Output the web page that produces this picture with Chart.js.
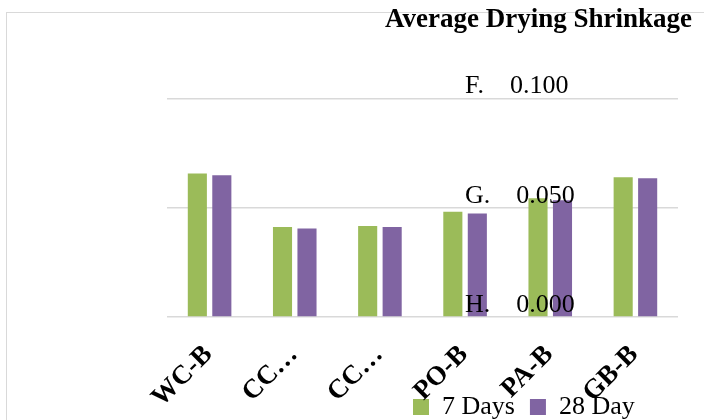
<!DOCTYPE html>
<html><head><meta charset="utf-8">
<script src="https://cdn.jsdelivr.net/npm/chart.js@4.4.1/dist/chart.umd.min.js"></script>
<style>
html,body{margin:0;padding:0;background:#fff;overflow:hidden;}
#wrap{position:relative;width:704px;height:420px;overflow:hidden;}
#frame{position:absolute;left:6px;top:12px;width:760px;height:460px;border:1.5px solid #d9d9d9;box-sizing:border-box;}
#c{position:absolute;left:0;top:0;}
</style></head><body>
<div id="wrap"><div id="frame"></div><canvas id="c" width="704" height="420"></canvas></div>
<script>
// ---- data ----
const categories = ['WC-B', 'CC…', 'CC…', 'PO-B', 'PA-B', 'GB-B'];
const days7 = [0.0657, 0.0412, 0.0416, 0.0481, 0.0543, 0.0639];
const days28 = [0.0648, 0.0405, 0.0412, 0.0473, 0.0534, 0.0635];
const seriesNames = ['7 Days', '28 Day'];
const yTickValues = [0, 0.05, 0.1];
const yTickLabels = ['H.    0.000', 'G.    0.050', 'F.    0.100'];
const chartTitle = 'Average Drying Shrinkage';

// ---- layout constants ----
const legendLeft = 398;
const legendTop = 379;

Chart.defaults.font.family = '"Liberation Serif", "Times New Roman", serif';
Chart.defaults.color = '#000';

const legendShift = {
  id: 'legendShift',
  afterLayout(chart) {
    const lg = chart.legend;
    if (!lg) return;
    const w = lg.right - lg.left;
    const h = lg.bottom - lg.top;
    lg.left = legendLeft;
    lg.right = legendLeft + w;
    lg.top = legendTop;
    lg.bottom = legendTop + h;
  }
};

function tickLabel(value) {
  const i = yTickValues.findIndex(v => Math.abs(v - value) < 1e-9);
  return i >= 0 ? yTickLabels[i] : '';
}

new Chart(document.getElementById('c'), {
  type: 'bar',
  data: {
    labels: categories,
    datasets: [
      { label: seriesNames[0], data: days7, backgroundColor: '#9BBB59', borderWidth: 0,
        barPercentage: 0.78, categoryPercentage: 0.575 },
      { label: seriesNames[1], data: days28, backgroundColor: '#8064A2', borderWidth: 0,
        barPercentage: 0.78, categoryPercentage: 0.575 }
    ]
  },
  options: {
    responsive: false,
    animation: false,
    devicePixelRatio: 1,
    layout: { padding: { left: 167, right: 12, top: 0, bottom: -51 } },
    plugins: {
      title: {
        display: true, text: chartTitle, align: 'end', color: '#000',
        font: { size: 27, weight: 'bold' }, padding: { top: 4, bottom: 62 }
      },
      legend: {
        display: true, position: 'bottom', fullSize: false, align: 'start',
        labels: { boxWidth: 16, boxHeight: 16, padding: 15, color: '#000', font: { size: 26 } }
      },
      tooltip: { enabled: false }
    },
    scales: {
      x: {
        grid: { display: false, drawTicks: false },
        border: { display: false },
        ticks: {
          autoSkip: false, maxRotation: 45, minRotation: 45, padding: 22, labelOffset: -1,
          color: '#000', font: { size: 27, weight: 'bold' }
        },
        afterFit(s) { s.height = 103; s.paddingLeft = 0; s.paddingRight = 0; }
      },
      y: {
        min: 0, max: 0.1,
        grid: { color: '#d9d9d9', lineWidth: 1.5, drawTicks: false },
        border: { display: false },
        ticks: { stepSize: 0.05, display: false },
        afterFit(s) { s.width = 0; s.paddingTop = 0; s.paddingBottom = 0; }
      },
      yLab: {
        position: 'left',
        min: 0, max: 0.1,
        grid: { display: false, drawTicks: false },
        border: { display: false },
        ticks: {
          z: 1,
          stepSize: 0.05, mirror: true, padding: 298, labelOffset: -12,
          color: '#000', font: { size: 26 },
          callback: tickLabel
        },
        afterFit(s) { s.width = 0; s.paddingTop = 0; s.paddingBottom = 0; }
      },
      y2: {
        position: 'right', display: true,
        grid: { display: false, drawTicks: false },
        border: { display: false },
        ticks: { display: false },
        afterFit(s) { s.width = 14; s.paddingTop = 0; s.paddingBottom = 0; }
      }
    }
  },
  plugins: [legendShift]
});
</script>
</body></html>
